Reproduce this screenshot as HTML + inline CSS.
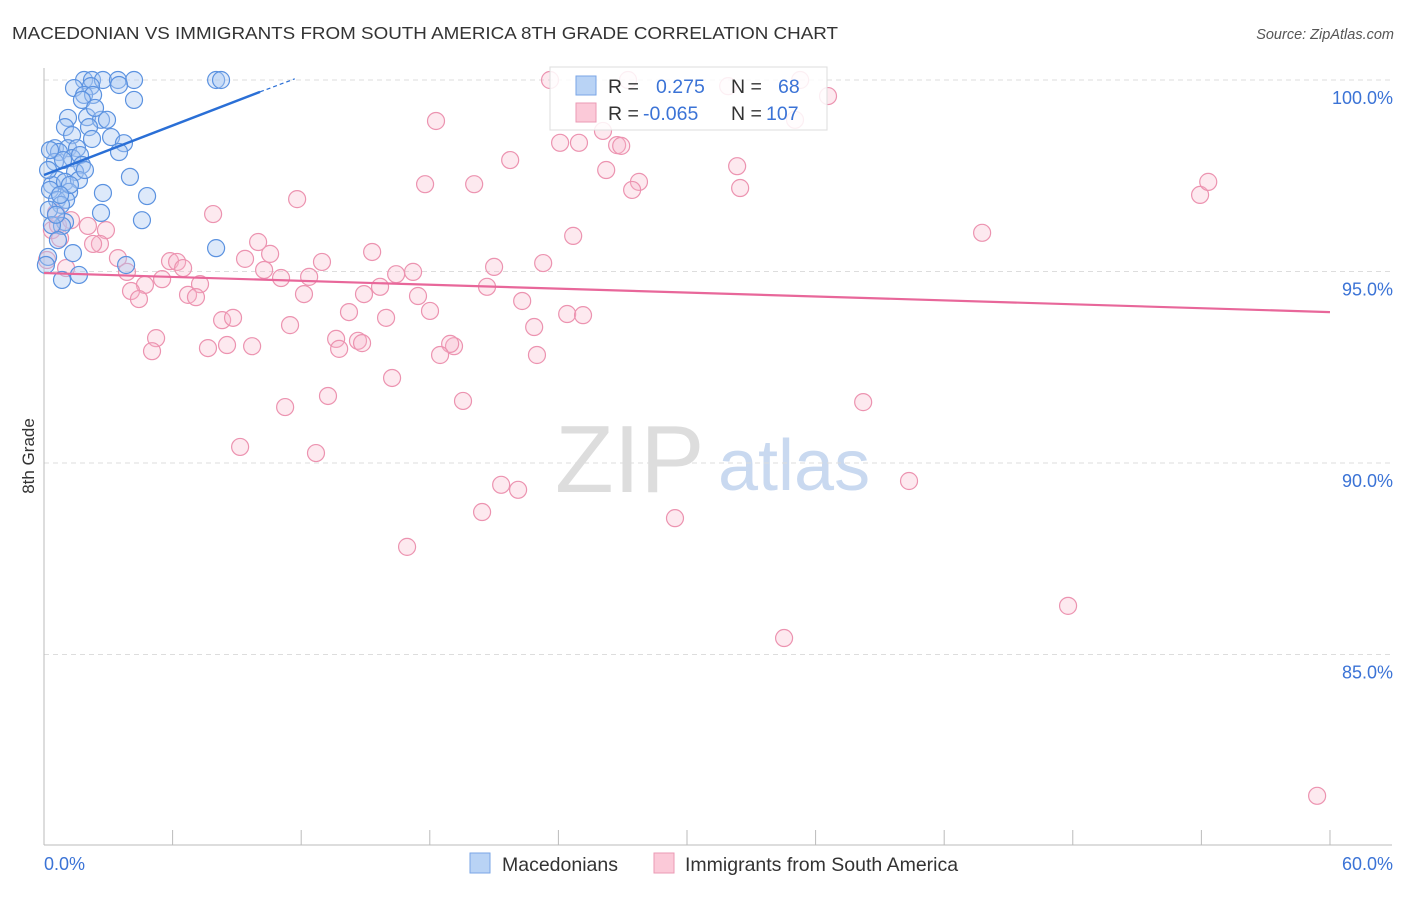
<!DOCTYPE html>
<html><head><meta charset="utf-8"><style>
body{margin:0;background:#fff;font-family:"Liberation Sans",sans-serif;}
svg text{font-family:"Liberation Sans",sans-serif;}
</style></head><body>
<svg id="chart" width="1406" height="892" viewBox="0 0 1406 892" xmlns="http://www.w3.org/2000/svg">
<text x="12" y="39" font-size="17.5" fill="#333" textLength="826" lengthAdjust="spacingAndGlyphs">MACEDONIAN VS IMMIGRANTS FROM SOUTH AMERICA 8TH GRADE CORRELATION CHART</text>
<text x="1394" y="39" font-size="14.5" fill="#555" text-anchor="end" font-style="italic">Source: ZipAtlas.com</text>
<g>
<text x="555" y="492" font-size="96" font-family="Liberation Serif,serif" fill="#ddd">ZIP</text>
<text x="718" y="490" font-size="72" fill="#c9d9f0">atlas</text>
</g>
<g id="grid"></g>
<g id="axes"></g>
<g id="pink"></g>
<g id="blue"></g>
<g id="trends"></g>
<g>
<rect x="550" y="67" width="277" height="63" fill="#fff" fill-opacity="0.85" stroke="#ddd"/>
<rect x="576" y="76" width="20" height="19" fill="#b9d3f5" stroke="#7aa6e6"/>
<rect x="576" y="103" width="20" height="19" fill="#fbc9d8" stroke="#eb9ab4"/>
<text x="608" y="93" font-size="19.5" fill="#333">R =</text>
<text x="656" y="93" font-size="19.5" fill="#3b73d6">0.275</text>
<text x="731" y="93" font-size="19.5" fill="#333">N =</text>
<text x="778" y="93" font-size="19.5" fill="#3b73d6">68</text>
<text x="608" y="120" font-size="19.5" fill="#333">R =</text>
<text x="643" y="120" font-size="19.5" fill="#3b73d6">-0.065</text>
<text x="731" y="120" font-size="19.5" fill="#333">N =</text>
<text x="766" y="120" font-size="19.5" fill="#3b73d6">107</text>
</g>
<g>
<rect x="470" y="853" width="20" height="20" fill="#b9d3f5" stroke="#7aa6e6"/>
<text x="502" y="871" font-size="19.5" fill="#333">Macedonians</text>
<rect x="654" y="853" width="20" height="20" fill="#fbc9d8" stroke="#eb9ab4"/>
<text x="685" y="871" font-size="19.5" fill="#333">Immigrants from South America</text>
</g>
<text transform="translate(34,456) rotate(-90)" font-size="17" fill="#333" text-anchor="middle">8th Grade</text>
</svg>
<script>
const yTicks=[100,95,90,85];
const yTickLabels=["100.0%","95.0%","90.0%","85.0%"];
const xTicks=[0,6,12,18,24,30,36,42,48,54,60];
const xEndLabels=["0.0%","60.0%"];
const blueX=[1.87,2.24,2.75,3.45,4.2,8.03,8.26,3.5,2.19,1.4,1.87,2.29,4.2,1.77,1.12,2.01,2.66,2.94,0.98,2.1,3.13,1.31,2.24,3.73,0.51,1.12,1.54,3.5,0.7,1.31,1.68,0.51,0.89,1.77,1.45,4.01,0.65,0.37,0.98,1.63,0.28,1.17,2.75,4.81,0.61,1.03,0.79,0.23,2.66,0.98,0.84,4.57,8.03,1.35,0.19,0.09,3.83,0.84,1.63,0.37,0.56,1.21,1.91,0.75,0.19,2.38,0.65,0.28];
const blueY=[100,100,100,100,100,100,100,99.87,99.84,99.79,99.61,99.61,99.48,99.48,99.01,99.03,98.96,98.96,98.77,98.77,98.51,98.56,98.46,98.35,98.22,98.22,98.22,98.12,98.12,97.96,98.04,97.86,97.91,97.78,97.6,97.47,97.39,97.26,97.34,97.39,97.13,97.08,97.05,96.97,96.87,96.87,96.74,96.61,96.53,96.29,96.19,96.34,95.61,95.48,95.38,95.17,95.17,94.78,94.91,96.21,96.48,97.26,97.65,97.0,97.65,99.27,95.82,98.17];
const pinkX=[23.61,27.25,31.92,35.28,36.58,18.29,35.04,26.08,24.08,24.96,26.74,26.93,21.75,32.34,26.23,17.78,20.07,27.76,27.44,32.48,53.94,54.32,11.81,7.89,43.77,24.69,2.05,2.89,0.37,0.75,9.99,2.61,15.31,10.55,2.29,3.45,9.38,5.88,6.21,12.97,6.49,1.03,23.29,21.0,16.43,17.22,10.27,11.06,12.37,3.87,5.51,4.71,7.28,20.67,15.68,4.06,14.93,6.72,7.09,12.13,17.45,4.43,22.31,14.23,18.01,24.41,25.15,15.96,8.31,8.82,11.48,22.87,5.23,13.63,14.65,14.84,7.65,8.54,9.71,19.13,18.95,13.77,5.04,18.48,23.0,16.24,13.25,19.55,38.22,11.25,9.15,12.69,40.36,21.33,22.12,20.44,29.44,16.94,47.78,34.53,59.4,0.56,0.65,1.26,0.14];
const pinkY=[100,100,99.84,100,99.58,98.93,98.96,98.67,98.36,98.36,98.3,98.28,97.91,97.75,97.65,97.28,97.28,97.34,97.13,97.18,97.0,97.34,96.89,96.5,96.01,95.93,96.19,96.08,96.08,95.87,95.77,95.72,95.51,95.46,95.72,95.35,95.33,95.27,95.25,95.25,95.09,95.09,95.22,95.12,94.93,94.99,95.04,94.83,94.86,94.99,94.8,94.65,94.67,94.6,94.6,94.49,94.41,94.39,94.33,94.41,94.36,94.28,94.23,93.94,93.97,93.89,93.86,93.79,93.73,93.79,93.6,93.55,93.26,93.24,93.19,93.13,93.0,93.08,93.05,93.05,93.11,92.98,92.92,92.82,92.82,92.22,91.75,91.62,91.59,91.46,90.42,90.26,89.53,89.43,89.3,88.72,88.56,87.81,86.27,85.43,81.31,96.53,96.21,96.34,95.3];
const blueTrend=[97.52,99.69,100.03];
const blueTrendX=[0,10.08,11.7];
const pinkTrend=[94.96,93.94];
const pinkTrendX=[0,60];

const NS="http://www.w3.org/2000/svg";
function xs(v){return 44+v*21.433;}
function ys(v){return 80+(100-v)*38.3;}
function mk(tag,attrs,parent){const e=document.createElementNS(NS,tag);for(const k in attrs)e.setAttribute(k,attrs[k]);parent.appendChild(e);return e;}
const grid=document.getElementById('grid'),axes=document.getElementById('axes');
yTicks.forEach((t,i)=>{
 const l=mk('line',{x1:44,x2:1392,y1:ys(t),y2:ys(t),stroke:'#ddd','stroke-dasharray':'5,4'},grid);
 
 
 const tx=mk('text',{x:1393,y:ys(t)+24,'font-size':18,fill:'#3b73d6','text-anchor':'end'},axes);
 tx.textContent=yTickLabels[i];
 
 
});
const la=mk('line',{x1:44,x2:44,y1:68,y2:845,stroke:'#bbb'},axes);


const lb=mk('line',{x1:44,x2:1392,y1:845,y2:845,stroke:'#bbb'},axes);


xTicks.forEach(t=>{
 const l=mk('line',{x1:xs(t),x2:xs(t),y1:830,y2:845,stroke:'#bbb'},axes);
 
 
});
const xl0=mk('text',{x:44,y:870,'font-size':18,fill:'#3b73d6'},axes);xl0.textContent=xEndLabels[0];


const xl1=mk('text',{x:1393,y:870,'font-size':18,fill:'#3b73d6','text-anchor':'end'},axes);xl1.textContent=xEndLabels[1];


const pg=document.getElementById('pink'),bg=document.getElementById('blue'),tg=document.getElementById('trends');
pinkX.forEach((v,i)=>{
 const c=mk('circle',{cx:xs(v),cy:ys(pinkY[i]),r:8.5,fill:'#f7b6ca','fill-opacity':0.3,stroke:'#ec93b0','stroke-width':1.2},pg);
 
 
});
blueX.forEach((v,i)=>{
 const c=mk('circle',{cx:xs(v),cy:ys(blueY[i]),r:8.5,fill:'#a9c8f2','fill-opacity':0.4,stroke:'#5b92e0','stroke-width':1.2},bg);
 
 
});
const bt=mk('line',{x1:xs(blueTrendX[0]),y1:ys(blueTrend[0]),x2:xs(blueTrendX[1]),y2:ys(blueTrend[1]),stroke:'#2a6fd6','stroke-width':2.5},tg);


const bd=mk('line',{x1:xs(blueTrendX[1]),y1:ys(blueTrend[1]),x2:xs(blueTrendX[2]),y2:ys(blueTrend[2]),stroke:'#2a6fd6','stroke-width':1.2,'stroke-dasharray':'4,3'},tg);


const pt=mk('line',{x1:xs(pinkTrendX[0]),y1:ys(pinkTrend[0]),x2:xs(pinkTrendX[1]),y2:ys(pinkTrend[1]),stroke:'#e8679a','stroke-width':2.2},tg);


</script>
</body></html>
